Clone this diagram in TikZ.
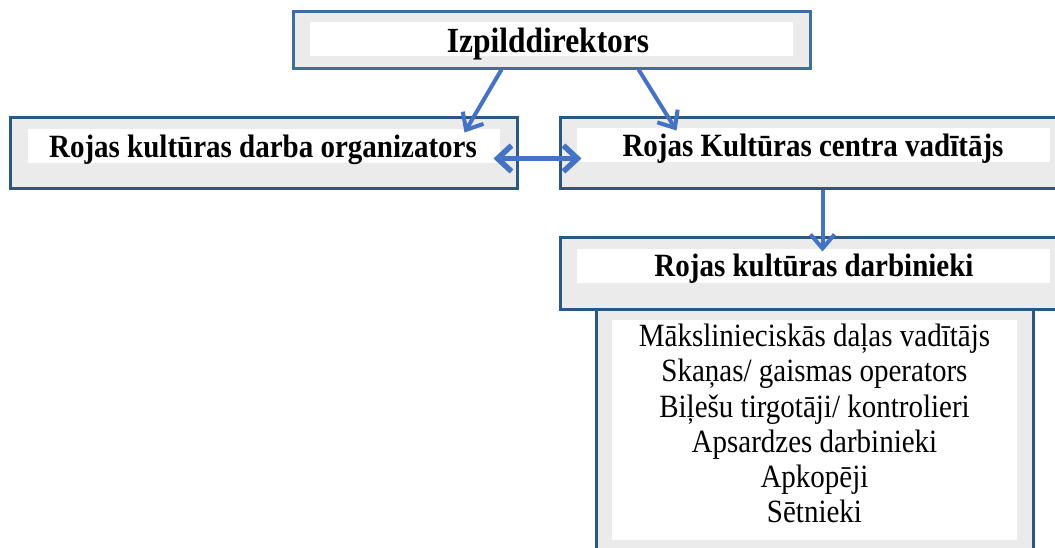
\documentclass[tikz,border=0pt]{standalone}
\usepackage{fontspec}
\usepackage{graphicx}
\setmainfont{Liberation Serif}
\usetikzlibrary{arrows.meta,calc}
\definecolor{boxgrey}{HTML}{EBEBEB}
\definecolor{boxline}{HTML}{2B5783}
\definecolor{topline}{HTML}{3F6E9E}
\definecolor{arrblue}{HTML}{4472C4}
\newcommand{\tallbox}[1]{\scalebox{1}[1.12]{#1}}
\begin{document}
\begin{tikzpicture}[x=1pt,y=-1pt,
  outerbox/.style={draw=boxline,line width=3pt,fill=boxgrey,rectangle,inner sep=0pt},
  whitebox/.style={fill=white},
  headtext/.style={font=\fontsize{29}{35}\selectfont\bfseries,anchor=base,inner sep=0pt},
  listtext/.style={font=\fontsize{29}{31.4}\selectfont,anchor=north,inner sep=0pt},
  arr/.style={draw=arrblue,line width=4pt,-{Straight Barb[length=14pt,width=24pt]}},
  dblarr/.style={draw=arrblue,line width=5.5pt,{Straight Barb[length=14pt,width=26pt]}-{Straight Barb[length=14pt,width=26pt]}}
]
\useasboundingbox (0,0) rectangle (1055,547);
% top box
\node[outerbox,draw=topline,minimum width=517pt,minimum height=57pt] (izp) at (551.5,39.5) {};
\fill[whitebox] (310,22) rectangle (793,56);
\node[headtext,font=\fontsize{31.5}{35}\selectfont\bfseries] (izpT) at (548,52) {\tallbox{Izpilddirektors}};
% left box
\node[outerbox,minimum width=507pt,minimum height=71pt] (org) at (263.5,152.5) {};
\fill[whitebox] (28,129) rectangle (500,163);
\node[headtext] (orgT) at (263,157) {\tallbox{Rojas kultūras darba organizators}};
% right box
\node[outerbox,minimum width=505pt,minimum height=71pt] (vad) at (812.5,152.5) {};
\fill[whitebox] (577,128) rectangle (1050,162);
\node[headtext] (vadT) at (813,156) {\tallbox{Rojas Kultūras centra vadītājs}};
% staff list box
\node[outerbox,minimum width=437pt,minimum height=251pt] (staff) at (814.5,434.5) {};
\fill[whitebox] (612,320) rectangle (1017,540);
% workers box
\node[outerbox,minimum width=505pt,minimum height=72pt] (darb) at (812.5,273) {};
\fill[whitebox] (577,249) rectangle (1050,283);
\node[headtext] (darbT) at (814,276) {\tallbox{Rojas kultūras darbinieki}};
\node[listtext] (staffT) at (814.5,322) {\tallbox{\begin{tabular}{@{}c@{}}Mākslinieciskās daļas vadītājs\\Skaņas/ gaismas operators\\Biļešu tirgotāji/ kontrolieri\\Apsardzes darbinieki\\Apkopēji\\Sētnieki\end{tabular}}};
% connectors
\draw[arr] ($(izp.south west)+(210,0)$) -- ($(org.north west)+(456,17)$);
\draw[arr] ($(izp.south west)+(347,0)$) -- ($(vad.north west)+(118,15)$);
\draw[dblarr] ($(org.north west)+(485,43)$) -- ($(vad.north west)+(23,43)$);
\draw[arr] ($(vad.south west)+(264,0)$) -- ($(darb.north west)+(264,16)$);
\end{tikzpicture}
\end{document}
